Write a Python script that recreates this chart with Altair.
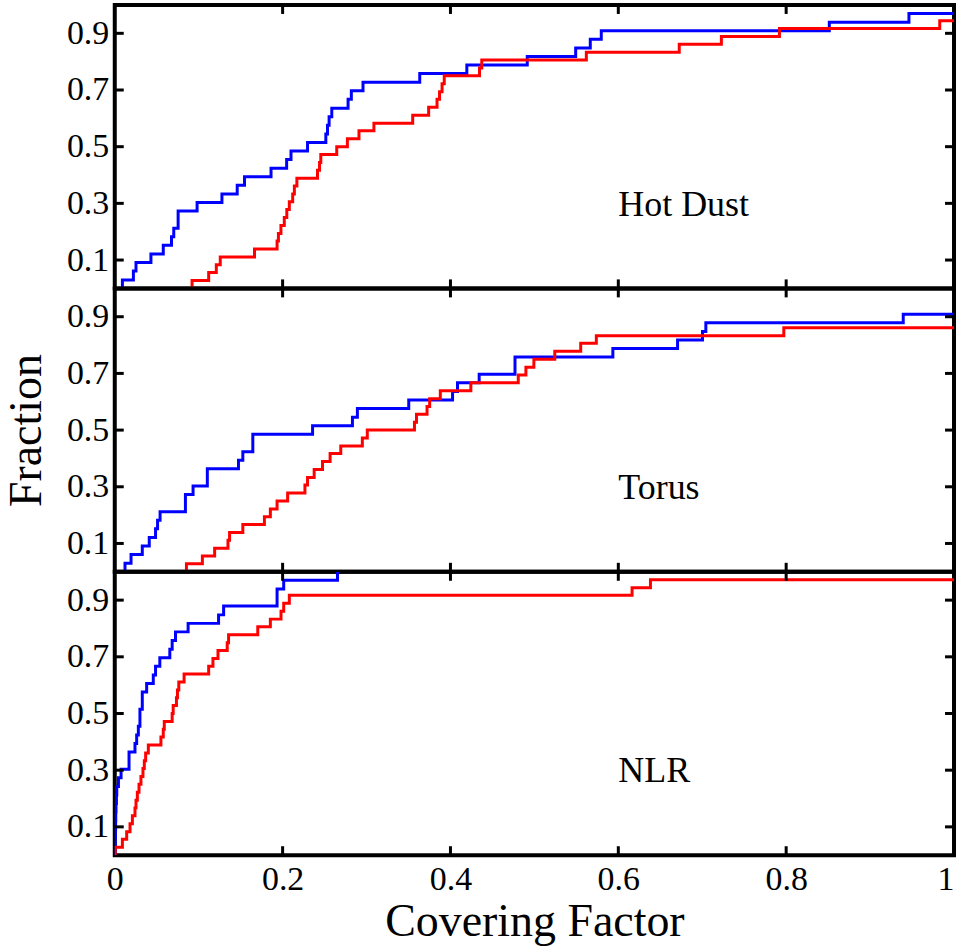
import altair as alt
import pandas as pd

FONT = "Liberation Serif"
SERIES = ["Sample 1", "Sample 2"]
COLORS = ["#0000ff", "#ff0000"]
PANELS = ["Hot Dust", "Torus", "NLR"]
Y_TICKS = [0.1, 0.3, 0.5, 0.7, 0.9]
X_TICKS = [0, 0.2, 0.4, 0.6, 0.8, 1.0]

# ---- Hot Dust ----
hot_blue_x = [0.0091, 0.0091, 0.0222, 0.0253, 0.0431, 0.0578, 0.0676, 0.0703, 0.0755, 0.0755,
              0.0981, 0.1277, 0.1459, 0.1546, 0.1862, 0.2048, 0.2100, 0.2297, 0.2515, 0.2535,
              0.2554, 0.2586, 0.2780, 0.2819, 0.2958, 0.3634, 0.4195, 0.4915, 0.5492, 0.5666,
              0.5797, 0.8514, 0.9463, 1.0]
hot_blue_y = [0, 0.030, 0.061, 0.091, 0.121, 0.152, 0.182, 0.212, 0.242, 0.273,
              0.303, 0.333, 0.364, 0.394, 0.424, 0.455, 0.485, 0.515, 0.545, 0.576,
              0.606, 0.636, 0.667, 0.697, 0.727, 0.758, 0.788, 0.818, 0.848, 0.879,
              0.909, 0.939, 0.970, 0.970]
hot_red_x = [0.0921, 0.0921, 0.1119, 0.1210, 0.1257, 0.1665, 0.1934, 0.1950, 0.1980, 0.2020,
             0.2050, 0.2080, 0.2120, 0.2140, 0.2170, 0.2416, 0.2440, 0.2455, 0.2645, 0.2772,
             0.2910, 0.3088, 0.3550, 0.3740, 0.3840, 0.3870, 0.3900, 0.3926, 0.4346, 0.4373,
             0.5619, 0.6726, 0.7228, 0.7920, 0.9830, 1.0]
hot_red_y = [0, 0.028, 0.056, 0.083, 0.111, 0.139, 0.167, 0.194, 0.222, 0.250,
             0.278, 0.306, 0.333, 0.361, 0.389, 0.417, 0.444, 0.472, 0.500, 0.528,
             0.556, 0.583, 0.611, 0.639, 0.667, 0.694, 0.722, 0.750, 0.778, 0.806,
             0.833, 0.861, 0.889, 0.917, 0.944, 0.944]

# ---- Torus ----
tor_blue_x = [0.0122, 0.0122, 0.0194, 0.0328, 0.0411, 0.0486, 0.0510, 0.0540, 0.0842, 0.0842,
              0.0933, 0.1103, 0.1103, 0.1474, 0.1526, 0.1645, 0.1645, 0.2357, 0.2832, 0.2891,
              0.3503, 0.4025, 0.4084, 0.4342, 0.4769, 0.4769, 0.5935, 0.6706, 0.7003, 0.7043,
              0.9395, 1.0]
tor_blue_y = [0, 0.030, 0.061, 0.091, 0.121, 0.152, 0.182, 0.212, 0.242, 0.273,
              0.303, 0.333, 0.364, 0.394, 0.424, 0.455, 0.485, 0.515, 0.545, 0.576,
              0.606, 0.636, 0.667, 0.697, 0.727, 0.758, 0.788, 0.818, 0.848, 0.879,
              0.909, 0.909]
tor_red_x = [0.0854, 0.0854, 0.1044, 0.1190, 0.1349, 0.1368, 0.1526, 0.1783, 0.1854, 0.1934,
             0.2060, 0.2266, 0.2297, 0.2376, 0.2475, 0.2566, 0.2693, 0.2950, 0.3009, 0.3571,
             0.3595, 0.3721, 0.3752, 0.3879, 0.4243, 0.4808, 0.4899, 0.4994, 0.5243, 0.5552,
             0.5738, 0.7972, 1.0]
tor_red_y = [0, 0.028, 0.056, 0.083, 0.111, 0.139, 0.167, 0.194, 0.222, 0.250,
             0.278, 0.306, 0.333, 0.361, 0.389, 0.417, 0.444, 0.472, 0.500, 0.528,
             0.556, 0.583, 0.611, 0.639, 0.667, 0.694, 0.722, 0.750, 0.778, 0.806,
             0.833, 0.861, 0.861]

# ---- NLR ----
nlr_blue_x = [0.0004, 0.0004, 0.0006, 0.0008, 0.0010, 0.0012, 0.0015, 0.0020, 0.0024, 0.0044,
              0.0075, 0.0170, 0.0170, 0.0241, 0.0261, 0.0281, 0.0300, 0.0300, 0.0328, 0.0328,
              0.0380, 0.0459, 0.0486, 0.0537, 0.0656, 0.0684, 0.0724, 0.0874, 0.1237, 0.1297,
              0.1934, 0.1934, 0.2013, 0.2654]
nlr_blue_y = [0, 0.030, 0.061, 0.091, 0.121, 0.152, 0.182, 0.212, 0.242, 0.273,
              0.303, 0.333, 0.364, 0.394, 0.424, 0.455, 0.485, 0.515, 0.545, 0.576,
              0.606, 0.636, 0.667, 0.697, 0.727, 0.758, 0.788, 0.818, 0.848, 0.879,
              0.909, 0.939, 0.970, 1.0]
nlr_red_x = [0.0005, 0.0005, 0.0091, 0.0142, 0.0182, 0.0210, 0.0241, 0.0253, 0.0269, 0.0289,
             0.0312, 0.0336, 0.0352, 0.0368, 0.0400, 0.0550, 0.0578, 0.0590, 0.0684, 0.0696,
             0.0735, 0.0747, 0.0763, 0.0826, 0.1119, 0.1170, 0.1230, 0.1340, 0.1356, 0.1704,
             0.1854, 0.1981, 0.2013, 0.2080, 0.6164, 0.6383, 1.0]
nlr_red_y = [0, 0.028, 0.056, 0.083, 0.111, 0.139, 0.167, 0.194, 0.222, 0.250,
             0.278, 0.306, 0.333, 0.361, 0.389, 0.417, 0.444, 0.472, 0.500, 0.528,
             0.556, 0.583, 0.611, 0.639, 0.667, 0.694, 0.722, 0.750, 0.778, 0.806,
             0.833, 0.861, 0.889, 0.917, 0.944, 0.972, 0.972]

W, H = 841, 284
TL = 9


def panel(name, bx, by, rx, ry, show_x, ytitle):
    rows = []
    for s, xs, ys in ((SERIES[0], bx, by), (SERIES[1], rx, ry)):
        for i, (x, y) in enumerate(zip(xs, ys)):
            rows.append({"x": x, "y": y, "series": s, "i": i})
    df = pd.DataFrame(rows)
    xscale = alt.Scale(domain=[0, 1], nice=False, zero=False)
    yscale = alt.Scale(domain=[0, 1], nice=False, zero=False)
    if show_x:
        xaxis = alt.Axis(values=X_TICKS, format="~g", title="Covering Factor",
                         labelPadding=7, titlePadding=3, labelFlush=False,
                         labelAlign=alt.ExprRef(expr="datum.value >= 1 ? 'right' : 'center'"))
    else:
        xaxis = None
    yaxis = alt.Axis(values=Y_TICKS, format=".1f", title=ytitle,
                     labelPadding=6, titlePadding=26, titleBaseline="alphabetic")
    lines = alt.Chart(df).mark_line(interpolate="step-after", strokeWidth=3, clip=True).encode(
        x=alt.X("x:Q", scale=xscale, axis=xaxis),
        y=alt.Y("y:Q", scale=yscale, axis=yaxis),
        color=alt.Color("series:N", scale=alt.Scale(domain=SERIES, range=COLORS), legend=None),
        order=alt.Order("i:Q"),
    )
    ytdf = pd.DataFrame({"y": Y_TICKS})
    xtdf = pd.DataFrame({"x": X_TICKS[1:-1]})
    tick = dict(color="black", strokeWidth=3)
    left = alt.Chart(ytdf).mark_rule(**tick).encode(
        y=alt.Y("y:Q", axis=yaxis), x=alt.value(0), x2=alt.value(TL))
    right = alt.Chart(ytdf).mark_rule(**tick).encode(
        y=alt.Y("y:Q", axis=yaxis), x=alt.value(W - TL), x2=alt.value(W))
    bottom = alt.Chart(xtdf).mark_rule(**tick).encode(
        x=alt.X("x:Q", axis=xaxis), y=alt.value(H), y2=alt.value(H - TL))
    top = alt.Chart(xtdf).mark_rule(**tick).encode(
        x=alt.X("x:Q", axis=xaxis), y=alt.value(0), y2=alt.value(TL))
    label = alt.Chart(pd.DataFrame({"label": [name]})).mark_text(
        align="left", baseline="alphabetic", font=FONT, fontSize=36, color="black"
    ).encode(
        x=alt.X(datum=0.6, axis=xaxis),
        y=alt.Y(datum=0.257, axis=yaxis),
        text="label:N",
    )
    return alt.layer(lines, left, right, bottom, top, label).properties(width=W, height=H)


p1 = panel(PANELS[0], hot_blue_x, hot_blue_y, hot_red_x, hot_red_y, False, None)
p2 = panel(PANELS[1], tor_blue_x, tor_blue_y, tor_red_x, tor_red_y, False, "Fraction")
p3 = panel(PANELS[2], nlr_blue_x, nlr_blue_y, nlr_red_x, nlr_red_y, True, None)

chart = alt.vconcat(p1, p2, p3, spacing=0, bounds="flush").properties(
    padding={"left": 1, "top": 0, "right": 2, "bottom": 0},
    background="white",
).configure_view(
    stroke="black", strokeWidth=4
).configure_axis(
    grid=False, domain=False, ticks=False,
    labelFont=FONT, labelFontSize=34, labelColor="black",
    titleFont=FONT, titleFontSize=46, titleFontWeight="normal", titleColor="black",
)

chart.save("out.html", embed_options={"renderer": "svg", "actions": False})
